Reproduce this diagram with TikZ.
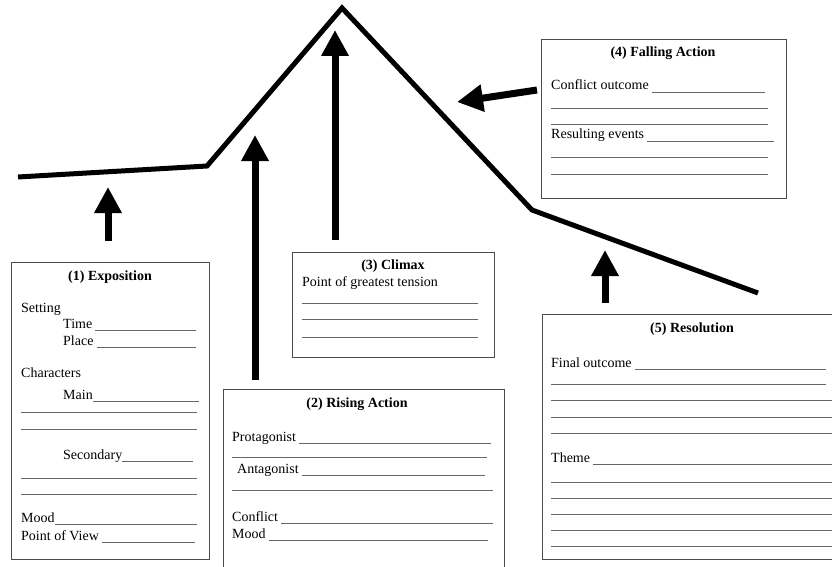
\documentclass[tikz,border=0pt]{standalone}
\usepackage{fontspec}
\setmainfont{Liberation Serif}
\usetikzlibrary{arrows.meta}

\tikzset{
  plotline/.style={line width=5pt,miter limit=20},
  bigarrow/.style={line width=7pt,-{Triangle[width=26pt,length=26pt]}},
  box/.style={draw=black!70,line width=1pt,anchor=north west,inner sep=0pt},
  title/.style={anchor=base,font=\fontsize{14}{16}\selectfont\bfseries},
  entry/.style={anchor=base west,inner sep=0pt,font=\fontsize{14}{16}\selectfont},
  blank/.style={draw=black!60,line width=0.8pt}
}
\newcommand{\fillin}[6][3pt]{%
  \node[entry] (#2) at (#3,#4) {#5};
  \draw[blank] ([xshift=#1]#2.base east) ++(0,2) -- (#6,#4+2);}
\newcommand{\rulein}[3]{\draw[blank] (#1,#3) -- (#2,#3);}

\begin{document}
\begin{tikzpicture}[x=1pt,y=-1pt]
    \useasboundingbox (0,0) rectangle (832,567);
    \draw[plotline] (18,177) -- (207,166) -- (342,8) -- (532,210) -- (758,293);

    \node[box,minimum width=198pt,minimum height=297pt] (expo) at (11,262) {};
    \node[box,minimum width=281pt,minimum height=200pt] (rising) at (223,389) {};
    \node[box,minimum width=202pt,minimum height=105pt] (climax) at (292,252) {};
    \node[box,minimum width=245pt,minimum height=159pt] (falling) at (541,39) {};
    \node[box,minimum width=300pt,minimum height=245pt] (resol) at (542,314) {};

    \coordinate (t1) at (108,241); \coordinate (h1) at (108,187);
    \coordinate (t2) at (255,380); \coordinate (h2) at (255,135);
    \coordinate (t3) at (335,240); \coordinate (h3) at (335,30);
    \coordinate (t4) at (537,90);  \coordinate (h4) at (457,102);
    \coordinate (t5) at (605,303); \coordinate (h5) at (605,250);
    \foreach \i in {1,...,5}
        \draw[bigarrow] (t\i) -- (h\i);

    % (1)
    \node[title] (expotitle) at (110,280) {(1) Exposition};
    \node[entry] (setting) at (21,312) {Setting};
    \fillin{time}{63}{328}{Time}{196}
    \fillin{place}{63}{345}{Place}{196}
    \node[entry] (chars) at (21,377) {Characters};
    \fillin[0pt]{main}{63}{399}{Main}{199}
    \rulein{21}{197}{412} \rulein{21}{197}{429}
    \fillin[0pt]{second}{63}{459}{Secondary}{193}
    \rulein{21}{197}{478} \rulein{21}{197}{494}
    \fillin[0pt]{mood}{21}{522}{Mood}{197}
    \fillin{view}{21}{540}{Point of View}{195}

    % (2)
    \node[title] (risingtitle) at (357,407) {(2) Rising Action};
    \fillin{prot}{232}{441}{Protagonist}{491}
    \rulein{232}{487}{457}
    \fillin{antag}{237}{473}{Antagonist}{485}
    \rulein{232}{493}{490}
    \fillin{confl}{232}{521}{Conflict}{493}
    \fillin{moodb}{232}{538}{Mood}{488}

    % (3)
    \node[title] (climaxtitle) at (393,269) {(3) Climax};
    \node[entry] (tension) at (302,286) {Point of greatest tension};
    \rulein{302}{478}{303} \rulein{302}{478}{319} \rulein{302}{478}{337}

    % (4)
    \node[title] (fallingtitle) at (663,57) {(4) Falling Action};
    \fillin{outc}{551}{90}{Conflict outcome}{765}
    \rulein{551}{768}{108} \rulein{551}{768}{124}
    \fillin{events}{551}{139}{Resulting events}{774}
    \rulein{551}{768}{157} \rulein{551}{768}{174}

    % (5)
    \node[title] (resoltitle) at (692,332) {(5) Resolution};
    \fillin{final}{551}{367}{Final outcome}{826}
    \rulein{551}{826}{384}
    \foreach \y in {400,417,433}
        {\rulein{551}{832}{\y}}
    \fillin{theme}{551}{462}{Theme}{832}
    \foreach \y in {482,498,514,530,546}
        {\rulein{551}{832}{\y}}
\end{tikzpicture}
\end{document}
